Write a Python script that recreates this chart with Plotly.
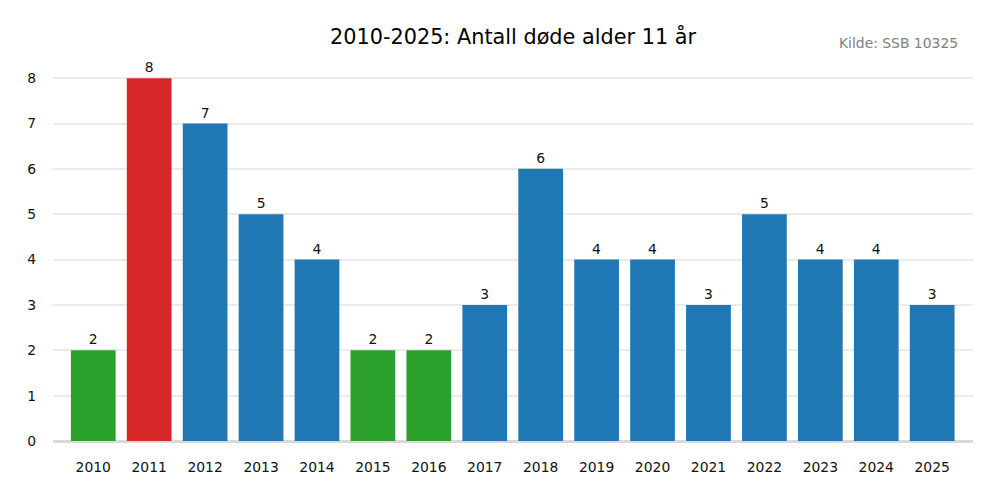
import plotly.graph_objects as go

years = [2010, 2011, 2012, 2013, 2014, 2015, 2016, 2017, 2018, 2019, 2020, 2021, 2022, 2023, 2024, 2025]
deaths = [2, 8, 7, 5, 4, 2, 2, 3, 6, 4, 4, 3, 5, 4, 4, 3]
title_text = "2010-2025: Antall døde alder 11 år"
source_text = "Kilde: SSB 10325"

BLUE, RED, GREEN = "#1f77b4", "#d62728", "#2ca02c"
mx, mn = max(deaths), min(deaths)
colors = [RED if v == mx else GREEN if v == mn else BLUE for v in deaths]

FONT = "DejaVu Sans"
SMALL = 13.9
fig = go.Figure(go.Bar(
    x=years, y=deaths, marker=dict(color=colors, line=dict(width=0)),
    width=0.8, text=[str(v) for v in deaths], textposition="outside",
    textfont=dict(family=FONT, size=SMALL, color="#111"), cliponaxis=False,
))
# page body has an 8px margin, so the figure is 992x492 and offsets compensate
fig.update_layout(
    width=992, height=492,
    margin=dict(l=45, r=27, t=52, b=59, autoexpand=False),
    paper_bgcolor="white", plot_bgcolor="white",
    font=dict(family=FONT, size=SMALL, color="#111"),
    showlegend=False,
    bargap=0.2,
    annotations=[
        dict(text=title_text, xref="paper", yref="paper", x=0.5, y=1 + 23 / 381,
             xanchor="center", yanchor="middle", showarrow=False,
             font=dict(family=FONT, size=20.8, color="#000")),
        dict(text=source_text, xref="paper", yref="paper", x=1 - 13 / 920, y=1 + 17 / 381,
             xanchor="right", yanchor="middle", showarrow=False,
             font=dict(family=FONT, size=SMALL, color="#808080")),
    ],
)
fig.update_xaxes(range=[2009.28, 2025.73], tickmode="array", tickvals=years,
                 ticktext=[str(y) for y in years], showgrid=False, zeroline=False,
                 showline=False, ticks="", ticklabelstandoff=16, automargin=False)
fig.update_yaxes(range=[0, 8.4], dtick=1, showgrid=True, gridcolor="#ebebeb", gridwidth=1.5,
                 zeroline=True, zerolinecolor="#d9d9d9", zerolinewidth=3,
                 showline=False, ticks="", ticklabelstandoff=16, automargin=False)
fig.write_html("out.html")
